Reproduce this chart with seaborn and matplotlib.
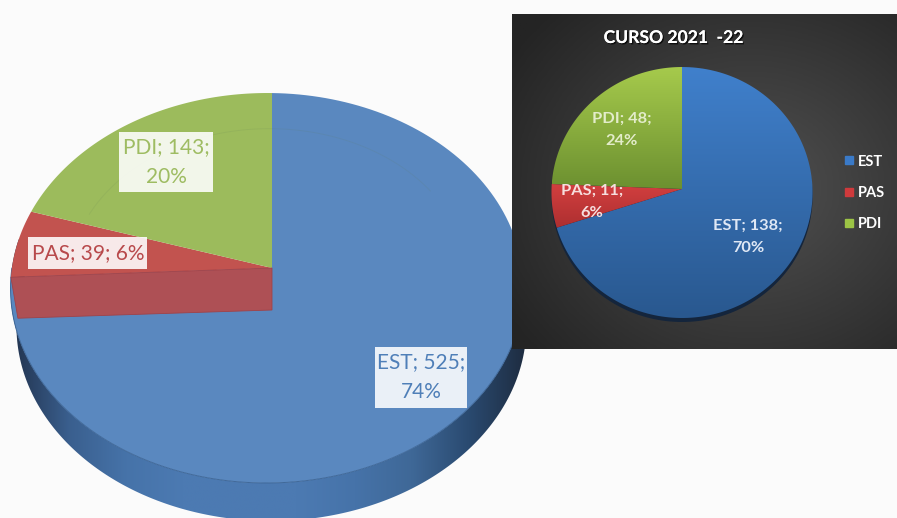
import numpy as np
import matplotlib
matplotlib.use("Agg")
import matplotlib.pyplot as plt
import matplotlib.patheffects as pe
from matplotlib.colors import LinearSegmentedColormap
from matplotlib.lines import Line2D
from matplotlib.patches import Polygon, Rectangle
import seaborn as sns

# ---------- data ----------
categories = ["EST", "PAS", "PDI"]
values_total = [525, 39, 143]
values_course = [138, 11, 48]
labels_total = ["EST; 525;\n74%", "PAS; 39; 6%", "PDI; 143;\n20%"]
labels_course = ["EST; 138;\n70%", "PAS; 11;\n6%", "PDI; 48;\n24%"]
course_title = "CURSO 2021  -22"

# ---------- style ----------
sns.set_theme(style="white")
plt.rcParams["font.family"] = ["Lato", "DejaVu Sans"]
BG = "#fbfbfb"
flat = sns.color_palette(["#5a88bf", "#c2534f", "#9cbb5c"])
text_main = ["#4f7fb8", "#b8494b", "#9ebc62"]

fig = plt.figure(figsize=(8.97, 5.18), dpi=100, facecolor=BG)
ax = fig.add_axes([0, 0, 1, 1])
ax.set_facecolor(BG)


def project(theta, r, geo):
    """Clockwise angle from 12 o'clock on a tilted disc -> pixel position."""
    cx, cy, b, a, k, m = geo
    u, v = r * np.sin(theta), r * np.cos(theta)
    d = 1 + k * v + m * u
    return cx + b * u / d, cy - a * v / d


def wedge_angles(values):
    # drawn clockwise from 12 o'clock, in list order
    edges = np.cumsum([0] + list(values)) / np.sum(values) * 2 * np.pi
    return list(zip(edges[:-1], edges[1:]))


def wedge_poly(t0, t1, geo):
    t = np.linspace(t0, t1, 160)
    x, y = project(t, 1.0, geo)
    return np.column_stack([np.r_[geo[0], x], np.r_[geo[1], y]])


def gradient_fill(poly, c_start, c_end, z, vertical=True, stops=None):
    """Fill a polygon with a linear gradient (clipped image)."""
    poly = np.asarray(poly)
    patch = Polygon(poly, closed=True, fc="none", ec="none", zorder=z)
    ax.add_patch(patch)
    x0, y0 = poly.min(axis=0)
    x1, y1 = poly.max(axis=0)
    cols = stops if stops else [c_start, c_end]
    cmap = LinearSegmentedColormap.from_list("g", cols)
    ramp = np.linspace(0, 1, 256)
    img = ramp[:, None] if vertical else ramp[None, :]
    im = ax.imshow(img, cmap=cmap, extent=(x0, x1, y1, y0), aspect="auto",
                   origin="upper", zorder=z, interpolation="bilinear")
    im.set_clip_path(patch)


# ---------- large tilted pie ----------
geo_a = (272, 268, 255, 192.9, 0.1026, 0.0196)
depth = 38
ang_a = wedge_angles(values_total)

# side wall (lower half of the rim and the same rim moved down)
t_low = np.linspace(np.pi / 2 - 0.15, 3 * np.pi / 2 + 0.15, 240)
xr, yr = project(t_low, 1.0, geo_a)
shift_x = 4.5 - 1.5 * np.sin(t_low)
wall = np.r_[np.column_stack([xr, yr]),
             np.column_stack([xr + shift_x, yr + depth])[::-1]]
gradient_fill(wall, None, None, 2, vertical=False,
              stops=["#22334e", "#3a5f8e", "#4673a9", "#4c7ab2", "#4c7ab2",
                     "#4c7ab2", "#4673a9", "#3f6897", "#2a4a70", "#1e2c40"])

# top surface
for (t0, t1), color, z in zip(ang_a, flat, (3, 4, 4)):
    ax.add_patch(Polygon(wedge_poly(t0, t1, geo_a), closed=True, fc=color,
                         ec="none", zorder=z))
t_rim = np.linspace(np.pi / 2, 3 * np.pi / 2, 200)
ax.plot(*project(t_rim, 1.0, geo_a), color="#3f6899", lw=0.7, zorder=3.5)

# cut face below the red slice
px, py = project(ang_a[1][0], 1.0, geo_a)
ax.add_patch(Polygon([(geo_a[0], geo_a[1]), (px, py), (px + 7, py + 41),
                      (geo_a[0], geo_a[1] + 42)], closed=True, fc="#ae5055",
                     ec="#a04248", lw=0.6, zorder=5))

# faint inner ring on the top surface
t_ring = np.linspace(-1.2, 1.0, 120)
ax.plot(*project(t_ring, 0.78, geo_a), color="#5d7d55", alpha=0.12, lw=0.7, zorder=5)

# labels of the large pie
positions_a = [(421, 377), (88, 253), (166, 162)]
boxes_a = [(375, 347, 92, 61), (28, 237, 119, 32), (119, 132, 94, 60)]
for txt, pos, col, box in zip(labels_total, positions_a, text_main, boxes_a):
    ax.add_patch(Rectangle(box[:2], box[2], box[3], fc="white", ec="none",
                           alpha=0.88, zorder=6))
    ax.text(*pos, txt, color=col, fontsize=15, ha="center", va="center",
            linespacing=1.6, zorder=7)

# ---------- inset panel ----------
x0, x1, y0, y1 = 512, 897, 14, 349
yy, xx = np.mgrid[0:1:200j, 0:1:260j]
dist = np.clip(np.hypot((xx - 0.62) / 0.75, (yy - 0.52) / 0.75), 0, 1)
panel_cmap = LinearSegmentedColormap.from_list("panel", ["#515151", "#242424"])
ax.imshow(dist, cmap=panel_cmap, vmin=0, vmax=1, extent=(x0, x1, y1, y0),
          aspect="auto", origin="upper", zorder=10)

geo_b = (682, 189, 130.5, 125.4, 0.0279, 0.0)
ang_b = wedge_angles(values_course)

# soft shadow under the pie
tt = np.linspace(0, 2 * np.pi, 300)
sx, sy = project(tt, 1.0, geo_b)
ax.add_patch(Polygon(np.column_stack([sx, sy + 4]), closed=True, fc="#14253c",
                     ec="none", zorder=11))

grads = [("#4080cc", "#29588f"), ("#d23f3f", "#ad2f30"), ("#a6ca4c", "#6c9030")]
for (t0, t1), (c0, c1) in zip(ang_b, grads):
    gradient_fill(wedge_poly(t0, t1, geo_b), c0, c1, 12)

positions_b = [(748, 237), (592, 202), (622, 130)]
text_b = ["#dfe8f5", "#f6dede", "#e3ecca"]
for txt, pos, col in zip(labels_course, positions_b, text_b):
    ax.text(*pos, txt, color=col, fontsize=11.8, fontweight="bold", ha="center",
            va="center", linespacing=1.75, zorder=13)

ax.text(673, 38, course_title, color="white", fontsize=12.6, fontweight="bold",
        ha="center", va="center", zorder=13,
        path_effects=[pe.withSimplePatchShadow(offset=(1, -1), shadow_rgbFace="black",
                                               alpha=0.7), pe.Normal()])

legend_colors = ["#3a7ac8", "#cf3a3c", "#9cc445"]
handles = [Line2D([], [], marker="s", ls="none", ms=5.5, color=c, label=n)
           for c, n in zip(legend_colors, categories)]
leg = ax.legend(handles=handles, loc="center left", bbox_to_anchor=(833, 193),
                bbox_transform=ax.transData, frameon=False,
                labelcolor="white", prop=dict(weight="bold", size=10.5),
                labelspacing=1.2, handletextpad=0.0, handlelength=1.2, borderpad=0)
leg.set_zorder(14)

ax.set_xlim(0, 897)
ax.set_ylim(518, 0)
ax.set_axis_off()
fig.savefig("out.png", dpi=100, facecolor=BG)
